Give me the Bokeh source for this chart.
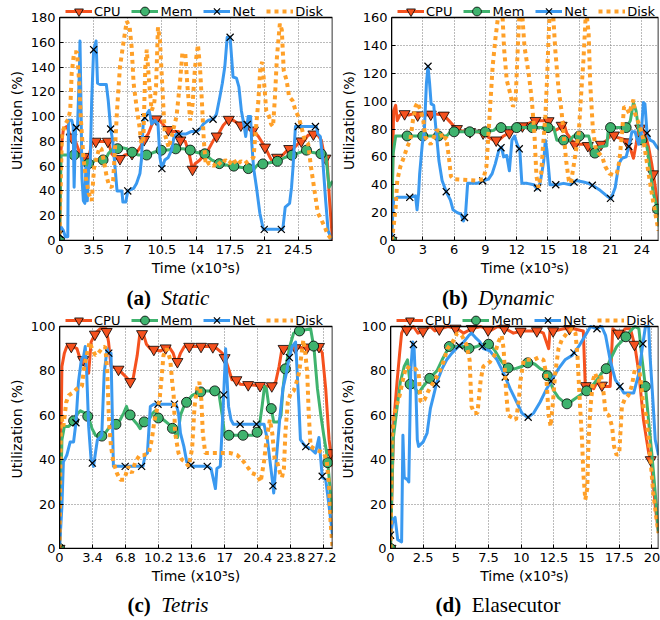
import numpy as np
from bokeh.plotting import figure
from bokeh.models import (Range1d, FixedTicker, Legend, LegendItem, Div, NumeralTickFormatter,
                          BoxAnnotation)
from bokeh.layouts import column, row
from bokeh.embed import file_html
from bokeh.resources import INLINE

# ---------------- data (time in 10^3 s, utilization in %) ----------------
A_XTICKS = [0, 3.5, 7, 10.5, 14, 17.5, 21, 24.5]
A_YTICKS = [0, 20, 40, 60, 80, 100, 120, 140, 160, 180]
A_CPU = [(0, 0), (0.15, 73), (0.4, 90), (0.75, 92), (1.15, 84), (1.6, 81), (2.1, 70), (2.6, 67), (3.0, 67), (3.3, 78),
         (3.55, 80), (5.0, 80), (5.35, 70), (5.7, 67), (6.2, 66), (6.7, 69), (7.4, 70), (7.9, 71), (8.25, 75), (8.65, 81),
         (9.1, 86), (9.45, 93), (9.8, 98), (10.1, 98), (10.5, 95), (11.0, 90), (11.5, 88), (12.2, 88), (12.4, 81), (12.9, 80),
         (13.3, 70), (13.65, 57), (13.9, 62), (14.4, 65), (14.9, 70), (15.25, 73), (15.8, 81), (16.3, 86), (16.8, 93), (17.4, 98),
         (17.8, 97), (18.4, 94), (18.85, 92), (19.35, 90), (19.85, 89), (20.4, 84), (21.1, 75), (21.6, 67), (21.9, 63), (22.3, 67),
         (22.9, 69), (23.5, 74), (24.1, 75), (24.7, 80), (25.15, 81), (25.5, 85), (25.95, 86), (26.5, 85), (26.85, 81), (27.2, 67),
         (27.45, 65), (27.7, 32), (28.0, 0)]
A_MEM = [(0, 0), (0.15, 69), (2.1, 69), (2.45, 63), (2.9, 62), (3.3, 62), (3.65, 65), (4.7, 65), (5.0, 70), (5.35, 73),
         (5.9, 74), (6.4, 75), (6.9, 74), (7.5, 71), (8.1, 69), (9.0, 69), (9.6, 71), (10.5, 73), (11.15, 73), (11.9, 74),
         (12.7, 74), (13.4, 73), (14.1, 71), (14.9, 70), (15.6, 65), (16.4, 62), (17.1, 61), (17.9, 60), (18.7, 59), (19.4, 58),
         (20.0, 58), (20.3, 61), (21.0, 62), (21.7, 63), (22.4, 64), (23.1, 67), (23.9, 69), (24.6, 71), (25.3, 73), (26.0, 71),
         (26.8, 70), (27.3, 70), (27.65, 43), (28.0, 48)]
A_NET = [(0, 5), (0.15, 11), (0.4, 8), (0.6, 3), (0.85, 3), (0.92, 97), (1.26, 97), (1.4, 92), (1.5, 43), (1.65, 90),
         (1.85, 92), (2.05, 140), (2.1, 161), (2.2, 113), (2.3, 51), (2.45, 32), (2.6, 30), (2.7, 59), (2.85, 32), (3.0, 59),
         (3.15, 62), (3.3, 113), (3.5, 154), (3.75, 161), (3.9, 127), (4.15, 126), (4.8, 126), (5.0, 113), (5.25, 90), (5.45, 81),
         (5.7, 59), (5.9, 40), (6.4, 40), (6.5, 31), (6.8, 31), (7.0, 40), (7.6, 42), (7.9, 46), (8.25, 54), (8.4, 65),
         (8.6, 97), (8.95, 102), (9.2, 105), (9.45, 94), (9.8, 97), (10.1, 94), (10.3, 67), (10.5, 58), (10.8, 65), (11.15, 67),
         (11.5, 73), (11.75, 84), (12.0, 86), (13.0, 86), (13.55, 88), (14.05, 88), (14.4, 90), (14.75, 94), (15.25, 97), (15.8, 98),
         (16.1, 102), (16.45, 116), (16.7, 127), (16.95, 140), (17.2, 164), (17.5, 164), (17.65, 148), (17.8, 132), (18.15, 131), (18.4, 124),
         (18.65, 105), (18.9, 94), (19.1, 84), (19.35, 100), (19.6, 100), (19.7, 81), (19.9, 59), (20.2, 43), (20.55, 22), (20.9, 9),
         (22.9, 9), (23.15, 27), (23.6, 30), (23.8, 43), (23.95, 59), (24.2, 92), (26.35, 92), (26.5, 86), (26.75, 84), (27.0, 65),
         (27.3, 32), (27.55, 8), (27.9, 1)]
A_DISK = [(0, 5), (0.25, 86), (0.6, 94), (0.9, 98), (1.1, 105), (1.25, 135), (1.5, 152), (1.8, 152), (2.0, 130), (2.2, 97),
          (2.45, 67), (2.7, 51), (3.0, 38), (3.3, 32), (3.55, 59), (3.8, 67), (4.1, 75), (4.3, 74), (4.6, 62), (4.85, 51),
          (5.1, 44), (5.35, 43), (5.5, 48), (5.7, 75), (5.9, 105), (6.2, 140), (6.6, 162), (6.9, 177), (7.2, 172), (7.4, 156),
          (7.6, 127), (7.9, 108), (8.2, 92), (8.4, 78), (8.6, 81), (8.8, 140), (8.95, 154), (9.2, 127), (9.45, 105), (9.7, 110),
          (9.9, 124), (10.1, 172), (10.3, 162), (10.6, 116), (10.8, 86), (11.2, 75), (11.5, 84), (11.75, 92), (12.0, 100), (12.35, 127),
          (12.6, 151), (12.9, 151), (13.1, 127), (13.4, 97), (13.65, 110), (13.9, 140), (14.2, 158), (14.4, 141), (14.6, 113), (14.8, 81),
          (15.0, 61), (15.4, 63), (15.8, 60), (16.2, 64), (16.6, 61), (17.0, 65), (17.4, 62), (17.8, 66), (18.2, 61), (18.6, 64),
          (19.0, 62), (19.5, 65), (19.9, 67), (20.1, 86), (20.4, 113), (20.6, 140), (20.8, 144), (21.05, 121), (21.2, 105), (21.5, 100),
          (21.7, 94), (21.9, 92), (22.1, 116), (22.3, 148), (22.6, 175), (22.8, 170), (23.0, 137), (23.3, 129), (23.55, 116), (23.9, 113),
          (24.2, 105), (24.5, 100), (24.8, 92), (25.15, 81), (25.5, 78), (25.8, 59), (26.2, 38), (26.5, 22), (26.9, 16), (27.2, 11),
          (27.5, 5), (27.9, 1)]

B_XTICKS = [0, 3, 6, 9, 12, 15, 18, 21, 24]
B_YTICKS = [0, 20, 40, 60, 80, 100, 120, 140, 160]
B_CPU = [(0, 0), (0.2, 93), (0.4, 97), (0.55, 86), (0.8, 90), (1.2, 91), (1.65, 90), (2.15, 91), (2.5, 90), (3.4, 90),
         (4.05, 91), (5.0, 90), (5.5, 86), (6.0, 82), (6.45, 79), (7.25, 78), (8.2, 78), (8.85, 77), (9.3, 74), (9.8, 72),
         (10.3, 72), (10.75, 75), (11.25, 77), (11.9, 80), (12.5, 82), (13.15, 84), (13.8, 86), (15.05, 86), (15.4, 80), (15.7, 79),
         (16.2, 81), (16.5, 85), (16.8, 77), (17.1, 74), (17.55, 69), (18.75, 69), (19.2, 63), (19.7, 67), (20.1, 69), (20.65, 72),
         (21.1, 77), (21.6, 74), (22.1, 73), (22.5, 72), (22.9, 66), (23.2, 59), (23.45, 69), (23.7, 81), (24.0, 80), (24.3, 77),
         (24.65, 67), (24.95, 55), (25.3, 38), (25.6, 17)]
B_MEM = [(0, 0), (0.15, 62), (0.4, 75), (5.3, 75), (5.65, 78), (9.15, 78), (9.8, 79), (10.1, 81), (15.55, 81), (15.85, 72),
         (17.1, 72), (17.45, 75), (18.9, 75), (19.2, 67), (19.55, 62), (19.85, 67), (20.65, 68), (20.8, 81), (22.55, 81), (22.9, 86),
         (23.2, 99), (23.45, 93), (23.7, 79), (24.05, 71), (24.5, 67), (24.8, 50), (25.1, 34), (25.55, 21), (25.65, 10)]
B_NET = [(0, 2), (0.2, 29), (0.55, 31), (1.8, 31), (2.3, 32), (2.45, 22), (2.6, 34), (2.7, 48), (2.95, 69), (3.15, 79),
         (3.35, 113), (3.5, 125), (3.65, 113), (3.8, 98), (4.05, 97), (4.3, 77), (4.55, 57), (4.85, 43), (5.25, 35), (5.65, 29),
         (5.9, 22), (6.3, 20), (6.65, 19), (6.9, 14), (7.1, 19), (7.3, 41), (8.2, 41), (8.85, 43), (9.3, 44), (9.65, 48),
         (9.95, 55), (10.3, 65), (10.55, 67), (10.75, 60), (11.05, 61), (11.3, 50), (11.55, 72), (11.8, 75), (12.05, 69), (12.3, 65),
         (12.5, 41), (13.0, 41), (13.65, 40), (13.95, 37), (14.25, 41), (14.6, 57), (14.75, 72), (14.9, 65), (15.2, 40), (15.85, 40),
         (16.5, 41), (17.15, 40), (17.7, 43), (18.4, 42), (18.9, 41), (19.4, 39), (20.0, 36), (20.65, 32), (21.05, 30), (21.45, 38),
         (21.8, 55), (22.1, 59), (22.5, 60), (22.8, 69), (23.05, 78), (23.35, 78), (23.7, 69), (23.95, 77), (24.15, 99), (24.3, 98),
         (24.5, 77), (24.8, 72), (25.1, 71), (25.45, 67), (25.75, 65)]
B_DISK = [(0, 0), (0.2, 10), (0.4, 24), (0.55, 43), (0.85, 53), (1.2, 60), (1.5, 67), (1.8, 72), (2.05, 86), (2.3, 96),
          (2.5, 99), (2.8, 93), (3.05, 86), (3.25, 74), (3.5, 72), (3.75, 69), (4.05, 74), (4.3, 79), (4.65, 79), (4.95, 72),
          (5.25, 74), (5.5, 60), (5.7, 46), (5.95, 44), (8.2, 43), (8.8, 44), (9.1, 53), (9.3, 77), (9.5, 101), (9.7, 125),
          (9.95, 144), (10.3, 166), (10.6, 168), (10.8, 137), (11.05, 115), (11.4, 105), (11.65, 96), (11.9, 101), (12.1, 137), (12.3, 168),
          (12.5, 166), (12.75, 139), (13.0, 127), (13.2, 117), (13.45, 101), (13.7, 77), (13.9, 46), (14.1, 38), (14.35, 48), (14.5, 65),
          (14.75, 89), (14.9, 113), (15.05, 144), (15.2, 168), (15.5, 162), (15.7, 137), (16.0, 110), (16.3, 93), (16.5, 77), (16.75, 57),
          (17.0, 43), (17.2, 41), (17.45, 53), (17.7, 65), (17.95, 77), (18.15, 101), (18.4, 129), (18.65, 166), (18.9, 149), (19.05, 113),
          (19.3, 81), (19.55, 67), (19.85, 63), (20.2, 60), (20.5, 53), (20.9, 48), (21.3, 47), (21.6, 48), (21.85, 57), (22.1, 77),
          (22.3, 96), (22.55, 95), (22.8, 91), (23.05, 98), (23.2, 101), (23.35, 91), (23.6, 86), (23.85, 81), (24.1, 74), (24.3, 65),
          (24.65, 48), (24.95, 34), (25.3, 19), (25.6, 7)]

C_XTICKS = [0, 3.4, 6.8, 10.2, 13.6, 17, 20.4, 23.8, 27.2]
C_YTICKS = [0, 20, 40, 60, 80, 100]
C_CPU = [(0, 0), (0.25, 82), (0.5, 88), (0.75, 91), (1.3, 91), (1.8, 90), (2.15, 85), (2.5, 85), (2.75, 81), (3.0, 79),
         (3.25, 93), (3.7, 97), (4.2, 99), (4.8, 99), (5.05, 93), (5.3, 82), (6.0, 81), (6.45, 79), (6.9, 77), (7.3, 75),
         (7.6, 77), (8.0, 87), (8.25, 96), (8.6, 97), (8.95, 92), (9.35, 90), (10.4, 89), (10.8, 90), (11.25, 91), (11.7, 88),
         (12.05, 83), (12.45, 88), (12.85, 91), (15.7, 91), (16.2, 90), (16.75, 88), (17.1, 85), (17.4, 81), (17.75, 76), (18.2, 76),
         (18.6, 74), (21.8, 73), (22.25, 75), (22.6, 82), (22.9, 90), (26.7, 91), (27.05, 88), (27.4, 72), (27.75, 49), (28.1, 37)]
C_MEM = [(0, 0), (0.25, 49), (0.5, 55), (0.95, 55), (1.4, 57), (1.7, 60), (2.15, 62), (2.65, 61), (3.0, 59), (3.35, 54),
         (3.7, 51), (4.2, 50), (4.7, 52), (5.2, 55), (5.85, 56), (6.25, 58), (6.6, 61), (6.9, 64), (7.1, 61), (7.3, 60),
         (7.6, 58), (8.0, 56), (8.3, 54), (8.7, 57), (9.2, 58), (9.6, 61), (9.85, 62), (10.25, 58), (10.7, 58), (11.25, 56),
         (11.65, 54), (11.9, 52), (12.15, 50), (12.45, 60), (12.8, 64), (13.1, 66), (13.65, 69), (14.15, 70), (14.85, 71), (16.05, 71),
         (16.4, 70), (16.75, 60), (17.0, 51), (20.0, 51), (20.5, 53), (20.85, 64), (21.1, 73), (21.3, 72), (21.55, 64), (21.8, 63),
         (22.05, 57), (22.55, 57), (22.8, 60), (23.0, 72), (23.25, 81), (23.7, 91), (24.1, 97), (24.7, 98), (25.85, 99), (26.2, 90),
         (26.55, 72), (26.9, 60), (27.2, 51), (27.5, 43), (27.6, 39), (27.9, 25), (28.1, 16)]
C_NET = [(0, 0), (0.25, 19), (0.4, 39), (0.75, 42), (1.1, 48), (1.45, 48), (1.7, 57), (1.95, 75), (2.25, 85), (2.5, 87),
         (2.65, 91), (2.8, 79), (3.0, 55), (3.25, 40), (3.5, 37), (3.7, 43), (3.9, 49), (4.2, 50), (4.35, 51), (4.6, 79),
         (4.9, 90), (5.05, 88), (5.3, 88), (5.55, 37), (8.6, 37), (8.8, 42), (9.05, 43), (9.35, 64), (9.7, 65), (12.0, 65),
         (12.25, 61), (12.45, 52), (12.8, 46), (13.1, 39), (13.65, 37), (15.25, 37), (15.6, 36), (15.9, 30), (16.05, 27), (16.2, 36),
         (16.55, 37), (16.85, 64), (17.1, 90), (17.25, 76), (17.4, 64), (17.65, 58), (17.9, 56), (21.05, 56), (21.4, 49), (21.65, 40),
         (21.9, 31), (22.05, 25), (22.35, 42), (22.7, 60), (23.0, 72), (23.35, 79), (23.6, 85), (23.95, 91), (24.3, 93), (24.65, 64),
         (24.8, 49), (25.3, 46), (25.85, 45), (26.35, 43), (26.7, 50), (27.05, 32), (27.4, 31), (27.75, 19), (28.1, 6)]
C_DISK = [(0, 0), (0.15, 60), (0.4, 55), (0.7, 66), (0.95, 69), (1.3, 70), (1.8, 72), (2.3, 73), (2.55, 82), (2.8, 87),
          (3.1, 93), (3.35, 90), (3.7, 87), (4.0, 88), (4.35, 90), (4.7, 91), (4.9, 81), (5.1, 57), (5.3, 46), (5.55, 39),
          (5.9, 34), (6.25, 31), (6.65, 31), (7.1, 37), (7.45, 34), (7.8, 39), (8.25, 42), (8.65, 42), (9.2, 43), (9.5, 49),
          (9.75, 57), (10.05, 63), (10.3, 67), (10.55, 79), (10.7, 87), (11.05, 90), (11.4, 85), (11.6, 75), (11.75, 69), (11.9, 52),
          (12.25, 43), (12.6, 40), (12.95, 39), (13.3, 37), (13.65, 45), (13.9, 64), (14.15, 72), (14.4, 75), (14.6, 67), (14.75, 52),
          (15.0, 43), (16.05, 43), (17.6, 43), (18.3, 42), (18.8, 40), (19.3, 37), (19.8, 34), (20.35, 33), (20.7, 30), (21.05, 39),
          (21.3, 49), (21.65, 58), (21.9, 52), (22.15, 40), (22.4, 39), (22.7, 34), (22.9, 32), (23.1, 36), (23.25, 52), (23.5, 66),
          (23.8, 70), (24.1, 71), (24.4, 75), (24.65, 79), (24.9, 87), (25.1, 94), (25.3, 88), (25.5, 79), (25.65, 61), (25.85, 46),
          (26.2, 45), (26.7, 44), (27.2, 43), (27.5, 40), (27.75, 28), (27.9, 12), (28.1, 1)]

D_XTICKS = [0, 2.5, 5, 7.5, 10, 12.5, 15, 17.5, 20]
D_YTICKS = [0, 20, 40, 60, 80, 100]
D_CPU = [(0, 0), (0.25, 57), (0.5, 75), (0.7, 88), (0.85, 97), (1.1, 100), (1.3, 98), (1.75, 100), (2.1, 97), (2.5, 98),
         (3.05, 100), (3.4, 98), (3.8, 99), (4.4, 100), (5.1, 99), (5.6, 97), (6.2, 99), (6.9, 100), (7.6, 98), (8.2, 100),
         (8.8, 99), (9.4, 97), (10.05, 98), (10.95, 98), (11.3, 98), (11.7, 97), (12.1, 90), (12.2, 98), (12.5, 98), (13.25, 99),
         (14.0, 99), (14.75, 98), (14.9, 73), (15.0, 74), (15.55, 72), (15.8, 75), (16.3, 73), (16.8, 73), (17.0, 99), (17.6, 96),
         (17.95, 99), (18.35, 99), (18.7, 91), (19.0, 79), (19.35, 58), (19.75, 43), (19.95, 39), (20.25, 19), (20.5, 7)]
D_MEM = [(0, 0), (0.2, 49), (0.45, 61), (0.75, 75), (1.05, 82), (1.3, 85), (1.5, 74), (1.9, 72), (2.15, 70), (2.5, 73),
         (3.05, 77), (3.55, 80), (3.95, 85), (4.5, 91), (5.1, 91), (5.6, 91), (6.05, 90), (6.6, 91), (7.1, 92), (7.6, 92),
         (8.0, 89), (8.4, 85), (8.8, 82), (9.1, 81), (9.55, 81), (10.05, 82), (10.6, 84), (11.05, 83), (11.45, 81), (11.85, 80),
         (12.2, 75), (12.5, 71), (12.85, 68), (13.25, 66), (13.55, 65), (14.0, 67), (14.5, 69), (15.0, 71), (15.4, 73), (15.8, 76),
         (16.15, 79), (16.5, 81), (16.8, 85), (17.3, 91), (17.95, 95), (18.35, 98), (18.7, 100), (19.0, 99), (19.25, 85), (19.5, 73),
         (19.75, 57), (20.0, 42), (20.25, 25), (20.5, 7)]
D_NET = [(0, 6), (0.2, 13), (0.35, 14), (0.55, 4), (0.85, 3), (0.95, 51), (1.05, 32), (1.3, 31), (1.4, 30), (1.55, 80),
         (1.7, 93), (1.8, 91), (1.95, 70), (2.05, 49), (2.15, 46), (2.5, 48), (2.8, 52), (3.05, 63), (3.3, 69), (3.55, 75),
         (3.95, 81), (4.3, 85), (4.7, 88), (5.2, 91), (5.6, 93), (6.0, 96), (6.2, 97), (6.5, 95), (6.85, 93), (7.1, 90),
         (7.6, 89), (8.15, 85), (8.65, 79), (9.15, 72), (9.65, 66), (10.05, 61), (10.5, 59), (10.95, 61), (11.45, 66), (11.95, 72),
         (12.35, 76), (12.85, 81), (13.35, 85), (13.9, 87), (14.4, 91), (14.9, 96), (15.3, 100), (15.8, 99), (16.15, 100), (16.45, 96),
         (16.8, 85), (17.2, 76), (17.55, 73), (17.85, 70), (18.6, 70), (19.0, 79), (19.25, 90), (19.5, 100), (19.75, 100), (19.85, 87),
         (20.1, 64), (20.25, 49), (20.5, 42)]
D_DISK = [(0, 0), (0.1, 49), (0.25, 60), (0.45, 64), (0.7, 69), (0.95, 76), (1.2, 82), (1.5, 81), (1.9, 81), (2.15, 79),
          (2.3, 66), (2.6, 67), (2.9, 71), (3.3, 75), (3.7, 79), (4.05, 84), (4.35, 90), (4.75, 93), (5.1, 97), (5.45, 96),
          (5.8, 92), (6.05, 85), (6.2, 64), (6.4, 61), (6.65, 61), (6.9, 76), (7.1, 82), (7.35, 83), (7.6, 84), (7.95, 87),
          (8.25, 93), (8.5, 96), (8.65, 90), (8.85, 70), (9.0, 60), (9.3, 59), (9.6, 58), (9.8, 66), (9.95, 76), (10.2, 85),
          (10.55, 85), (10.95, 85), (11.3, 86), (11.7, 85), (11.9, 79), (12.1, 60), (12.25, 55), (12.4, 64), (12.6, 79), (12.85, 90),
          (13.1, 94), (13.5, 97), (13.9, 99), (14.15, 97), (14.3, 87), (14.5, 64), (14.65, 49), (14.75, 34), (14.9, 22), (15.05, 27),
          (15.15, 49), (15.3, 64), (15.5, 76), (15.65, 79), (15.9, 75), (16.1, 78), (16.3, 70), (16.45, 61), (16.7, 60), (16.95, 55),
          (17.1, 46), (17.3, 42), (17.5, 43), (17.7, 64), (17.9, 67), (18.2, 69), (18.45, 73), (18.7, 81), (19.0, 82), (19.15, 75),
          (19.35, 64), (19.55, 60), (19.75, 49), (19.9, 39), (20.1, 25), (20.35, 13), (20.5, 7)]

SERIES_NAMES = ["CPU", "Mem", "Net", "Disk"]
CAPTIONS = [("a", "Static", True), ("b", "Dynamic", True), ("c", "Tetris", True), ("d", "Elasecutor", False)]

# ---------------- styling ----------------
COL = {"CPU": "#f5511e", "Mem": "#3fb36e", "Net": "#3a99f0", "Disk": "#ffa028"}
FONT = "DejaVu Sans"
TOP_EXT = 17      # px between canvas top and plot box (room for the legend)
LEG_H = 22


def clip_top(t, v, ymax):
    """Cut the line where it leaves the plot box through its top edge."""
    ts, vs = [t[0]], [min(v[0], ymax)]
    for i in range(1, len(t)):
        t0, v0, t1, v1 = t[i - 1], v[i - 1], t[i], v[i]
        a0, a1 = v0 > ymax, v1 > ymax
        if a0 != a1:
            tc = t0 + (ymax - v0) * (t1 - t0) / (v1 - v0)
            ts.append(tc)
            vs.append(ymax)
            if a1:
                ts.append(np.nan)
                vs.append(np.nan)
        if not a1:
            ts.append(t1)
            vs.append(v1)
    return np.array(ts), np.array(vs)


def panel(series, xmax, ymax, xticks, yticks, mk_steps, width, height, bl, br, bb):
    fh = height - bb
    ytop = ymax * fh / (fh - TOP_EXT)
    p = figure(width=width, height=height, x_range=Range1d(0, xmax), y_range=Range1d(0, ytop),
               output_backend="svg", toolbar_location=None,
               min_border_left=bl, min_border_right=br, min_border_top=0, min_border_bottom=bb)
    p.outline_line_color = None
    p.border_fill_color = None
    p.xaxis.ticker = FixedTicker(ticks=xticks)
    p.yaxis.ticker = FixedTicker(ticks=yticks)
    p.xgrid.ticker = FixedTicker(ticks=xticks)
    p.ygrid.ticker = FixedTicker(ticks=yticks)
    p.yaxis.bounds = (0, ymax)
    p.xaxis.formatter = NumeralTickFormatter(format="0.[0]")
    p.xaxis.axis_label = "Time (x10\u00b3s)"
    p.yaxis.axis_label = "Utilization (%)"
    for ax in (p.xaxis[0], p.yaxis[0]):
        ax.axis_label_text_font = FONT
        ax.axis_label_text_font_size = "14px"
        ax.axis_label_text_font_style = "normal"
        ax.axis_label_text_color = "black"
        ax.axis_label_standoff = 3
        ax.major_label_text_font = FONT
        ax.major_label_text_font_size = "13px"
        ax.major_label_text_color = "black"
        ax.major_label_standoff = 4
        ax.major_tick_in = 4
        ax.major_tick_out = 0
        ax.minor_tick_line_color = None
        ax.axis_line_color = "black"
        ax.major_tick_line_color = "black"
    for g in (p.xgrid[0], p.ygrid[0]):
        g.grid_line_color = "#777777"
        g.grid_line_dash = "1 2"
        g.grid_line_width = 1
    try:
        p.xgrid[0].cross_bounds = (0, ymax)
    except AttributeError:
        pass

    items = []
    for name in SERIES_NAMES:
        t, v = (np.array(a, dtype=float) for a in zip(*series[name]))
        ct, cv = clip_top(t, v, ymax)
        if name == "Disk":
            ln = p.line(ct, cv, line_color=COL[name], line_width=4, line_dash="4 4")
            items.append(LegendItem(label=name, renderers=[ln]))
            continue
        ln = p.line(ct, cv, line_color=COL[name], line_width=3, line_join="round")
        mt = np.arange(0, t[-1] + 1e-9, mk_steps[name])
        mv = np.interp(mt, t, v)
        keep = mv <= ymax
        mt, mv = mt[keep], mv[keep]
        if name == "CPU":
            mk = p.scatter(mt, mv, marker="inverted_triangle", size=11, fill_color=COL[name],
                           line_color="black", line_width=0.8)
        elif name == "Mem":
            mk = p.scatter(mt, mv, marker="circle", size=10, fill_color=COL[name],
                           line_color="black", line_width=0.8)
        else:
            mk = p.scatter(mt, mv, marker="x", size=10, line_color="black", line_width=1.2)
        items.append(LegendItem(label=name, renderers=[ln, mk]))

    box = BoxAnnotation(left=0, right=xmax, bottom=0, top=ymax, fill_alpha=0,
                        line_color="black", line_width=1.6, line_alpha=1)
    p.add_layout(box)
    leg = Legend(items=items, orientation="horizontal", location=(6, fh - LEG_H),
                 glyph_width=27, glyph_height=LEG_H, label_height=14, label_standoff=2, spacing=11,
                 padding=0, margin=0, label_text_font=FONT, label_text_font_size="13px",
                 label_text_color="black", border_line_alpha=0, background_fill_alpha=0)
    p.add_layout(leg)
    return p


def caption(letter, name, italic, width, height, lh):
    body = f"<b>({letter})</b>&nbsp;&nbsp;" + (f"<i>{name}</i>" if italic else name)
    return Div(text=body, width=width, height=height, margin=0,
               styles={"text-align": "center", "font-family": "'Liberation Serif', serif",
                       "font-size": "21px", "line-height": f"{lh}px", "color": "black"})


WL, WR = 336, 324
HT, HB = 282, 281
pa = panel({"CPU": A_CPU, "Mem": A_MEM, "Net": A_NET, "Disk": A_DISK}, 28, 180, A_XTICKS, A_YTICKS,
           {"CPU": 1.24, "Mem": 1.49, "Net": 1.75}, WL, HT, 59, 4, 42)
pb = panel({"CPU": B_CPU, "Mem": B_MEM, "Net": B_NET, "Disk": B_DISK}, 25.6, 160, B_XTICKS, B_YTICKS,
           {"CPU": 1.255, "Mem": 1.5, "Net": 1.75}, WR, HT, 55, 2, 42)
pc = panel({"CPU": C_CPU, "Mem": C_MEM, "Net": C_NET, "Disk": C_DISK}, 28.1, 100, C_XTICKS, C_YTICKS,
           {"CPU": 1.214, "Mem": 1.453, "Net": 1.69}, WL, HB, 59, 4, 42)
pd_ = panel({"CPU": D_CPU, "Mem": D_MEM, "Net": D_NET, "Disk": D_DISK}, 20.5, 100, D_XTICKS, D_YTICKS,
            {"CPU": 1.244, "Mem": 1.5, "Net": 1.755}, WR, HB, 54, 2, 42)

cap_a = caption(*CAPTIONS[0], WL, 27, 32)
cap_b = caption(*CAPTIONS[1], WR, 27, 32)
cap_c = caption(*CAPTIONS[2], WL, 30, 30)
cap_d = caption(*CAPTIONS[3], WR, 30, 30)

layout = column(row(pa, pb), row(cap_a, cap_b), row(pc, pd_), row(cap_c, cap_d))

with open("out.html", "w") as f:
    f.write(file_html(layout, INLINE))
